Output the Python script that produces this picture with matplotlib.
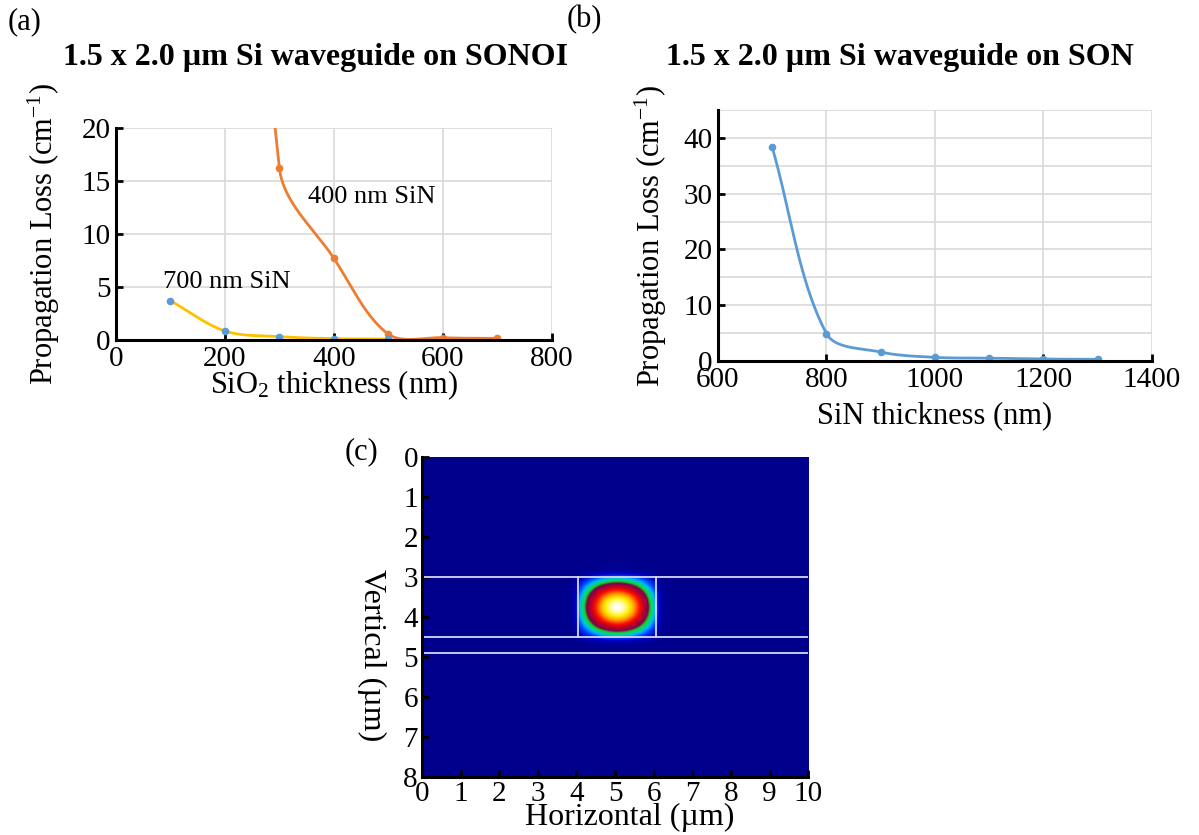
import numpy as np
import matplotlib
matplotlib.use("Agg")
import matplotlib.pyplot as plt
from matplotlib.colors import LinearSegmentedColormap

plt.rcParams["font.family"] = ["Liberation Serif", "DejaVu Serif"]
plt.rcParams["mathtext.default"] = "regular"

# (a) SONOI: loss vs SiO2 thickness for two SiN thicknesses
sio2_nm = [100, 200, 300, 400, 500]
loss_sin700 = [3.7, 0.85, 0.32, 0.13, 0.10]
sio2_nm_400 = [200, 300, 400, 500, 600, 700]
loss_sin400 = [100.0, 16.2, 7.7, 0.55, 0.22, 0.15]

# (b) SON: loss vs SiN thickness
sin_nm = [700, 800, 900, 1000, 1100, 1200, 1300]
loss_son = [38.3, 4.9, 1.6, 0.65, 0.5, 0.35, 0.3]

# (c) waveguide geometry (um) and mode shape parameters
core_x = (4.05, 6.05)
core_y = (3.0, 4.5)
layer_lines = [3.0, 4.5, 4.9]
mode_edge_level = 0.2
mode_decay = 0.15

BLUE = "#5B9BD5"
ORANGE = "#ED7D31"
GOLD = "#FFC000"
GRID = "#D9D9D9"
LABEL_SIZE = 22
TICK_SIZE = 21


def smooth_curve(x, y, sx, sy, n=60):
    """Chord-weighted Catmull-Rom (spreadsheet-style smoothed line), in screen units."""
    pts = np.column_stack([np.asarray(x, float) * sx, np.asarray(y, float) * sy])
    ext = np.vstack([2 * pts[0] - pts[1], pts, 2 * pts[-1] - pts[-2]])
    t = np.linspace(0, 1, n, endpoint=False)[:, None]
    h00 = 2 * t**3 - 3 * t**2 + 1
    h10 = t**3 - 2 * t**2 + t
    h01 = -2 * t**3 + 3 * t**2
    h11 = t**3 - t**2
    segs = []
    for i in range(len(pts) - 1):
        p0, p1, p2, p3 = ext[i], ext[i + 1], ext[i + 2], ext[i + 3]
        d01 = np.linalg.norm(p1 - p0)
        d12 = np.linalg.norm(p2 - p1)
        d23 = np.linalg.norm(p3 - p2)
        m1 = (p2 - p0) * d12 / (d01 + d12)
        m2 = (p3 - p1) * d12 / (d12 + d23)
        segs.append(h00 * p1 + h10 * m1 + h01 * p2 + h11 * m2)
    segs.append(pts[-1:])
    out = np.vstack(segs)
    return out[:, 0] / sx, out[:, 1] / sy


def style_axis(ax):
    for side in ["top", "right"]:
        ax.spines[side].set_visible(False)
    for side in ["left", "bottom"]:
        ax.spines[side].set_linewidth(2.2)
    ax.tick_params(direction="in", length=5, width=2, labelsize=TICK_SIZE, pad=4)
    ax.grid(True, color=GRID, lw=1.2)
    ax.set_axisbelow(True)


def mode_profile(u, lo, hi):
    c = (lo + hi) / 2
    half = (hi - lo) / 2
    a = np.arccos(np.sqrt(mode_edge_level)) / half
    inside = np.cos(a * (u - c)) ** 2
    outside = mode_edge_level * np.exp(-2 * (np.abs(u - c) - half) / mode_decay)
    return np.where(np.abs(u - c) <= half, inside, outside)


def main():
    fig = plt.figure(figsize=(11.99, 8.35), dpi=100)

    # ---- (a) ----
    ax1 = fig.add_axes([0.0967, 0.5928, 0.3636, 0.2539])
    style_axis(ax1)
    xs, ys = smooth_curve(sio2_nm_400, loss_sin400, 0.545, 10.6)
    ax1.plot(xs, ys, color=ORANGE, lw=2)
    ax1.plot(sio2_nm_400, loss_sin400, "o", color=ORANGE, ms=4.5)
    xs, ys = smooth_curve(sio2_nm, loss_sin700, 0.545, 10.6)
    ax1.plot(xs, ys, color=GOLD, lw=2)
    ax1.plot(sio2_nm, loss_sin700, "o", color=BLUE, ms=4.5)
    ax1.set_xlim(0, 800)
    ax1.set_ylim(0, 20)
    ax1.set_xticks(range(0, 801, 200))
    ax1.set_yticks(range(0, 21, 5))
    ax1.set_xlabel("SiO$_2$ thickness (nm)", fontsize=LABEL_SIZE, labelpad=-2)
    ax1.set_ylabel("Propagation Loss (cm$^{-1}$)", fontsize=LABEL_SIZE, labelpad=14)
    ax1.text(352, 13.5, "400 nm SiN", fontsize=19, va="center")
    ax1.text(86, 5.5, "700 nm SiN", fontsize=19, va="center")
    fig.text(316 / 1199, 1 - 57 / 835, "1.5 x 2.0 \u00b5m Si waveguide on SONOI",
             fontsize=23, fontweight="bold", ha="center", va="center")
    fig.text(25 / 1199, 1 - 22 / 835, "(a)", fontsize=22, ha="center", va="center")

    # ---- (b) ----
    ax2 = fig.add_axes([0.5988, 0.5677, 0.3620, 0.3006])
    style_axis(ax2)
    xs, ys = smooth_curve(sin_nm, loss_son, 0.5425, 5.58)
    ax2.plot(xs, ys, color=BLUE, lw=2)
    ax2.plot(sin_nm, loss_son, "o", color=BLUE, ms=4.5)
    ax2.set_xlim(600, 1400)
    ax2.set_ylim(0, 45)
    ax2.set_xticks(range(600, 1401, 200))
    ax2.set_yticks(range(0, 41, 10))
    ax2.set_yticks(range(5, 46, 10), minor=True)
    ax2.tick_params(which="minor", length=0)
    ax2.grid(True, which="minor", color=GRID, lw=1.2)
    ax2.set_xlabel("SiN thickness (nm)", fontsize=LABEL_SIZE, labelpad=6)
    ax2.set_ylabel("Propagation Loss (cm$^{-1}$)", fontsize=LABEL_SIZE, labelpad=10)
    fig.text(900 / 1199, 1 - 57 / 835, "1.5 x 2.0 \u00b5m Si waveguide on SON",
             fontsize=23, fontweight="bold", ha="center", va="center")
    fig.text(584 / 1199, 1 - 20 / 835, "(b)", fontsize=22, ha="center", va="center")

    # ---- (c) mode profile ----
    ax3 = fig.add_axes([0.3520, 0.0700, 0.3220, 0.3830])
    hx = np.linspace(0, 10, 500)
    vy = np.linspace(0, 8, 400)
    X, Y = np.meshgrid(hx, vy)
    field = mode_profile(X, *core_x) * mode_profile(Y, *core_y)
    cmap = LinearSegmentedColormap.from_list("mode", [
        (0.00, "#00008C"), (0.06, "#0000C8"), (0.14, "#0040FF"),
        (0.22, "#00B4FF"), (0.30, "#00E060"), (0.35, "#20C020"),
        (0.40, "#7A0050"), (0.55, "#C8001E"), (0.65, "#FF1000"),
        (0.78, "#FF9800"), (0.89, "#FFF000"), (1.00, "#FFFFF4")])
    ax3.imshow(field, extent=(0, 10, 8, 0), cmap=cmap, vmin=0, vmax=1,
               aspect="auto", interpolation="bilinear")
    for yl in layer_lines:
        ax3.axhline(yl, color="#D8D8F0", lw=1.3)
    for xl in core_x:
        ax3.plot([xl, xl], list(core_y), color="#D8D8F0", lw=1.3)
    ax3.set_xlim(0, 10)
    ax3.set_ylim(8, 0)
    for side in ["top", "right"]:
        ax3.spines[side].set_visible(False)
    for side in ["left", "bottom"]:
        ax3.spines[side].set_linewidth(2.2)
    ax3.set_xticks(range(0, 11))
    ax3.set_yticks(range(0, 9))
    ax3.tick_params(direction="in", length=5, width=2, labelsize=TICK_SIZE, pad=3)
    fig.text(630 / 1199, 1 - 817 / 835, "Horizontal (\u00b5m)", fontsize=23,
             ha="center", va="center")
    fig.text(372 / 1199, 1 - 655 / 835, "Vertical (\u00b5m)", fontsize=23,
             rotation=270, ha="center", va="center")
    fig.text(362 / 1199, 1 - 452 / 835, "(c)", fontsize=22, ha="center", va="center")

    fig.savefig("out.png", dpi=100)


if __name__ == "__main__":
    main()
